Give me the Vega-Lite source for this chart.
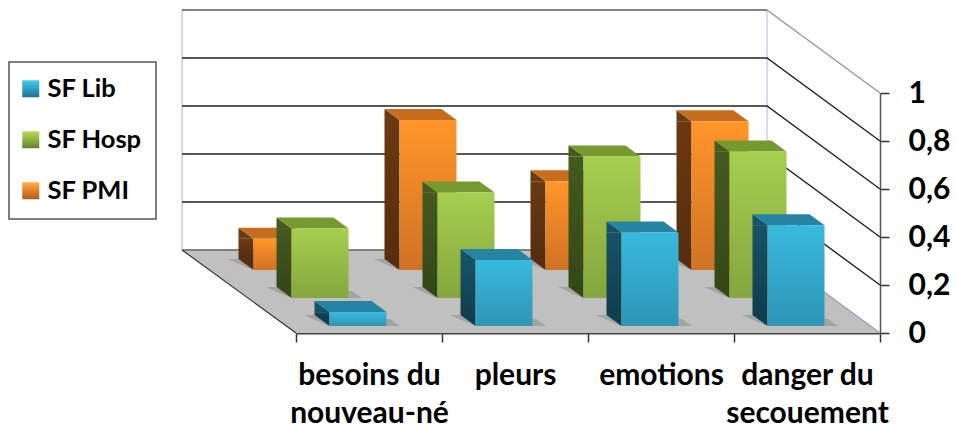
{"$schema":"https://vega.github.io/schema/vega-lite/v6.json","width":880,"height":333,"autosize":{"type":"none"},"padding":{"left":0,"top":0,"right":76,"bottom":95},"background":"white","config":{"view":{"stroke":null},"axisY":{"grid":false,"domainColor":"#555555","domainWidth":1.5,"tickColor":"#333333","tickWidth":1.5,"tickSize":9,"labelFont":"Lato","labelFontWeight":"bold","labelFontSize":30,"labelColor":"#000000","labelPadding":19}},
"datasets":{"bars":[
{"cat":"besoins du|nouveau-né","series":"SF Lib","value":0.058},{"cat":"pleurs","series":"SF Lib","value":0.275},{"cat":"emotions","series":"SF Lib","value":0.39},{"cat":"danger du|secouement","series":"SF Lib","value":0.42},
{"cat":"besoins du|nouveau-né","series":"SF Hosp","value":0.29},{"cat":"pleurs","series":"SF Hosp","value":0.44},{"cat":"emotions","series":"SF Hosp","value":0.59},{"cat":"danger du|secouement","series":"SF Hosp","value":0.61},
{"cat":"besoins du|nouveau-né","series":"SF PMI","value":0.13},{"cat":"pleurs","series":"SF PMI","value":0.625},{"cat":"emotions","series":"SF PMI","value":0.37},{"cat":"danger du|secouement","series":"SF PMI","value":0.62}],
"grid":[{"cat":"danger du|secouement","value":0},{"cat":"danger du|secouement","value":0.2},{"cat":"danger du|secouement","value":0.4},{"cat":"danger du|secouement","value":0.6},{"cat":"danger du|secouement","value":0.8},{"cat":"danger du|secouement","value":1}]},
"data":{"name":"bars"},
"encoding":{
"x":{"field":"cat","type":"nominal","sort":null,"title":null,"scale":{"domain":["besoins du|nouveau-né","pleurs","emotions","danger du|secouement"],"range":[296,880],"paddingInner":0,"paddingOuter":0},"axis":{"orient":"bottom","tickBand":"extent","grid":false,"domainColor":"#444444","domainWidth":2,"tickColor":"#333333","tickWidth":1.5,"tickSize":9,"labelAngle":0,"labelFont":"Lato","labelFontWeight":"bold","labelFontSize":30,"labelColor":"#000000","labelPadding":18,"labelLineHeight":38,"labelLimit":0,"labelOverlap":false,"labelBaseline":"top","labelExpr":"split(datum.label,'|')"}},
"y":{"field":"value","type":"quantitative","title":null,"scale":{"domain":[0,1],"range":[333,93]},"axis":{"orient":"right","values":[0,0.2,0.4,0.6,0.8,1],"format":"~g","labelExpr":"replace(datum.label,'.',',')"}}
},
"layer":[
{"data":{"name":"grid"},"transform":[{"filter":"datum.value==0"}],"mark":{"type":"point","filled":true,"size":40000,"opacity":1,"fill":"#c0c0c0","stroke":null,"shape":"M0.73,0 L-5.11,0 L-6.25,-0.83 L-0.40,-0.83 Z"}},
{"data":{"name":"grid"},"transform":[{"filter":"datum.value==0"}],"mark":{"type":"point","filled":false,"size":40000,"opacity":1,"stroke":"#ccccff","strokeWidth":1.5,"shape":"M-0.40,-0.83 L-0.40,-3.23 M-6.25,-0.83 L-6.25,-3.23"}},
{"data":{"name":"grid"},"transform":[{"filter":"datum.value==0"}],"mark":{"type":"point","filled":false,"size":40000,"opacity":1,"stroke":"#808080","strokeWidth":2,"shape":"M-6.25,-0.83 L-0.40,-0.83"}},
{"data":{"name":"grid"},"transform":[{"filter":"datum.value==0"}],"mark":{"type":"point","filled":false,"size":40000,"opacity":1,"stroke":"#333333","strokeWidth":1.2,"shape":"M-5.11,0 L-6.25,-0.83"}},
{"data":{"name":"grid"},"transform":[{"filter":"datum.value==0"}],"mark":{"type":"point","filled":false,"size":40000,"opacity":1,"stroke":"#9a9ac0","strokeWidth":1.2,"shape":"M0.73,0 L-0.40,-0.83"}},
{"data":{"name":"grid"},"transform":[{"filter":"datum.value>0&&datum.value<1"}],"mark":{"type":"point","filled":false,"size":40000,"opacity":1,"stroke":"#222222","strokeWidth":1.4,"shape":"M0.73,0 L-0.40,-0.83 L-6.25,-0.83"}},
{"data":{"name":"grid"},"transform":[{"filter":"datum.value==1"}],"mark":{"type":"point","filled":false,"size":40000,"opacity":1,"stroke":"#9090b0","strokeWidth":1.3,"shape":"M0.73,0 L-0.40,-0.83"}},
{"data":{"name":"grid"},"transform":[{"filter":"datum.value==1"}],"mark":{"type":"point","filled":false,"size":40000,"opacity":1,"stroke":"#80808f","strokeWidth":2,"shape":"M-0.40,-0.83 L-6.25,-0.83"}},

{"transform":[{"filter":"datum.series=='SF PMI'"}],"mark":{"type":"point","filled":true,"size":40000,"opacity":0.45,"fill":"#808080","stroke":null,"xOffset":-87,"yOffset":-63,"shape":"M-0.54,-0.11 L-0.435,-0.11 L-0.285,0 L-0.36,-0.03 Z M0.285,0 L0.42,0 L0.32,-0.07 L0.285,-0.07 Z"},"encoding":{"y":{"datum":0,"title":null,"axis":{"orient":"right","values":[0,0.2,0.4,0.6,0.8,1],"format":"~g","labelExpr":"replace(datum.label,'.',',')"}}}},
{"transform":[{"filter":"datum.series=='SF PMI'"}],"mark":{"type":"bar","width":15,"xOffset":-123,"yOffset":-63,"y2Offset":-74,"fill":{"gradient":"linear","x1":0,"y1":0,"x2":0,"y2":1,"stops":[{"offset":0,"color":"#6a3a12"},{"offset":1,"color":"#562d0e"}]}},"encoding":{"y2":{"datum":0}}},
{"transform":[{"filter":"datum.series=='SF PMI'"}],"mark":{"type":"point","filled":true,"size":40000,"opacity":1,"fill":"#6a3a12","stroke":null,"xOffset":-87,"yOffset":-63,"shape":"M-0.285,0 L-0.435,-0.11 L-0.435,0 Z"}},
{"transform":[{"filter":"datum.series=='SF PMI'"}],"mark":{"type":"point","filled":true,"size":40000,"opacity":1,"fill":"#562d0e","stroke":null,"xOffset":-87,"yOffset":-63,"shape":"M-0.435,-0.11 L-0.285,-0.11 L-0.285,0 Z"},"encoding":{"y":{"datum":0,"title":null,"axis":{"orient":"right","values":[0,0.2,0.4,0.6,0.8,1],"format":"~g","labelExpr":"replace(datum.label,'.',',')"}}}},
{"transform":[{"filter":"datum.series=='SF PMI'"}],"mark":{"type":"point","filled":true,"size":40000,"opacity":1,"fill":"#c76d1e","stroke":null,"xOffset":-87,"yOffset":-63,"shape":"M-0.285,0 L0.285,0 L0.135,-0.11 L-0.435,-0.11 Z"}},
{"transform":[{"filter":"datum.series=='SF PMI'"}],"mark":{"type":"bar","width":57,"xOffset":-87,"yOffset":-63,"y2Offset":-63,"fill":{"gradient":"linear","x1":0,"y1":0,"x2":0,"y2":1,"stops":[{"offset":0,"color":"#ff9629"},{"offset":1,"color":"#d07225"}]}},"encoding":{"y2":{"datum":0}}},

{"transform":[{"filter":"datum.series=='SF Hosp'"}],"mark":{"type":"point","filled":true,"size":40000,"opacity":0.45,"fill":"#808080","stroke":null,"xOffset":-49,"yOffset":-35,"shape":"M-0.54,-0.11 L-0.435,-0.11 L-0.285,0 L-0.36,-0.03 Z M0.285,0 L0.42,0 L0.32,-0.07 L0.285,-0.07 Z"},"encoding":{"y":{"datum":0,"title":null,"axis":{"orient":"right","values":[0,0.2,0.4,0.6,0.8,1],"format":"~g","labelExpr":"replace(datum.label,'.',',')"}}}},
{"transform":[{"filter":"datum.series=='SF Hosp'"}],"mark":{"type":"bar","width":15,"xOffset":-85,"yOffset":-35,"y2Offset":-46,"fill":{"gradient":"linear","x1":0,"y1":0,"x2":0,"y2":1,"stops":[{"offset":0,"color":"#435a20"},{"offset":1,"color":"#364718"}]}},"encoding":{"y2":{"datum":0}}},
{"transform":[{"filter":"datum.series=='SF Hosp'"}],"mark":{"type":"point","filled":true,"size":40000,"opacity":1,"fill":"#435a20","stroke":null,"xOffset":-49,"yOffset":-35,"shape":"M-0.285,0 L-0.435,-0.11 L-0.435,0 Z"}},
{"transform":[{"filter":"datum.series=='SF Hosp'"}],"mark":{"type":"point","filled":true,"size":40000,"opacity":1,"fill":"#364718","stroke":null,"xOffset":-49,"yOffset":-35,"shape":"M-0.435,-0.11 L-0.285,-0.11 L-0.285,0 Z"},"encoding":{"y":{"datum":0,"title":null,"axis":{"orient":"right","values":[0,0.2,0.4,0.6,0.8,1],"format":"~g","labelExpr":"replace(datum.label,'.',',')"}}}},
{"transform":[{"filter":"datum.series=='SF Hosp'"}],"mark":{"type":"point","filled":true,"size":40000,"opacity":1,"fill":"#779a30","stroke":null,"xOffset":-49,"yOffset":-35,"shape":"M-0.285,0 L0.285,0 L0.135,-0.11 L-0.435,-0.11 Z"}},
{"transform":[{"filter":"datum.series=='SF Hosp'"}],"mark":{"type":"bar","width":57,"xOffset":-49,"yOffset":-35,"y2Offset":-35,"fill":{"gradient":"linear","x1":0,"y1":0,"x2":0,"y2":1,"stops":[{"offset":0,"color":"#a6cf4f"},{"offset":1,"color":"#84a63e"}]}},"encoding":{"y2":{"datum":0}}},

{"transform":[{"filter":"datum.series=='SF Lib'"}],"mark":{"type":"point","filled":true,"size":40000,"opacity":0.45,"fill":"#808080","stroke":null,"xOffset":-11,"yOffset":-7,"shape":"M-0.54,-0.11 L-0.435,-0.11 L-0.285,0 L-0.36,-0.03 Z M0.285,0 L0.42,0 L0.32,-0.07 L0.285,-0.07 Z"},"encoding":{"y":{"datum":0,"title":null,"axis":{"orient":"right","values":[0,0.2,0.4,0.6,0.8,1],"format":"~g","labelExpr":"replace(datum.label,'.',',')"}}}},
{"transform":[{"filter":"datum.series=='SF Lib'"}],"mark":{"type":"bar","width":15,"xOffset":-47,"yOffset":-7,"y2Offset":-18,"fill":{"gradient":"linear","x1":0,"y1":0,"x2":0,"y2":1,"stops":[{"offset":0,"color":"#185268"},{"offset":1,"color":"#113e4e"}]}},"encoding":{"y2":{"datum":0}}},
{"transform":[{"filter":"datum.series=='SF Lib'"}],"mark":{"type":"point","filled":true,"size":40000,"opacity":1,"fill":"#185268","stroke":null,"xOffset":-11,"yOffset":-7,"shape":"M-0.285,0 L-0.435,-0.11 L-0.435,0 Z"}},
{"transform":[{"filter":"datum.series=='SF Lib'"}],"mark":{"type":"point","filled":true,"size":40000,"opacity":1,"fill":"#113e4e","stroke":null,"xOffset":-11,"yOffset":-7,"shape":"M-0.435,-0.11 L-0.285,-0.11 L-0.285,0 Z"},"encoding":{"y":{"datum":0,"title":null,"axis":{"orient":"right","values":[0,0.2,0.4,0.6,0.8,1],"format":"~g","labelExpr":"replace(datum.label,'.',',')"}}}},
{"transform":[{"filter":"datum.series=='SF Lib'"}],"mark":{"type":"point","filled":true,"size":40000,"opacity":1,"fill":"#2684a3","stroke":null,"xOffset":-11,"yOffset":-7,"shape":"M-0.285,0 L0.285,0 L0.135,-0.11 L-0.435,-0.11 Z"}},
{"transform":[{"filter":"datum.series=='SF Lib'"}],"mark":{"type":"bar","width":57,"xOffset":-11,"yOffset":-7,"y2Offset":-7,"fill":{"gradient":"linear","x1":0,"y1":0,"x2":0,"y2":1,"stops":[{"offset":0,"color":"#39b9de"},{"offset":1,"color":"#2e95b5"}]}},"encoding":{"y2":{"datum":0}}},

{"mark":{"type":"point","filled":true,"size":0},"encoding":{"color":{"field":"series","type":"nominal","scale":{"domain":["SF Lib","SF Hosp","SF PMI"],"range":[{"expr":"{gradient:'linear',x1:0,y1:0,x2:0,y2:1,stops:[{offset:0,color:'#45cdf0'},{offset:0.5,color:'#2f9fc2'},{offset:1,color:'#1f6f8c'}]}"},{"expr":"{gradient:'linear',x1:0,y1:0,x2:0,y2:1,stops:[{offset:0,color:'#b7dc5c'},{offset:0.5,color:'#8fb244'},{offset:1,color:'#62802c'}]}"},{"expr":"{gradient:'linear',x1:0,y1:0,x2:0,y2:1,stops:[{offset:0,color:'#ffb04a'},{offset:0.5,color:'#e17f27'},{offset:1,color:'#a8601c'}]}"}]},"legend":{"title":null,"orient":"none","legendX":9,"legendY":62,"padding":14,"fillColor":"white","strokeColor":"#555555","symbolType":"square","symbolSize":289,"symbolOpacity":1,"symbolStrokeWidth":0,"symbolOffset":-5,"labelFont":"Lato","labelFontWeight":"bold","labelFontSize":25.5,"labelColor":"#000000","labelOffset":4,"rowPadding":24,"labelLimit":0,"encode":{"legend":{"update":{"strokeWidth":{"value":1.5}}}}}}}}
]}
